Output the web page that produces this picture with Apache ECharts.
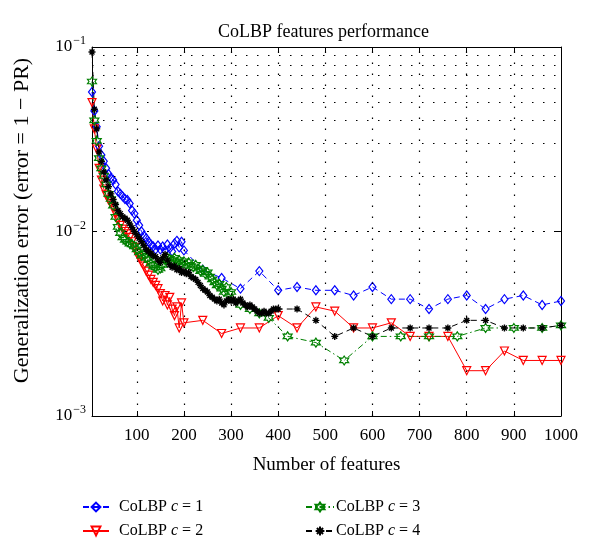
<!DOCTYPE html>
<html><head><meta charset="utf-8">
<script src="https://cdn.jsdelivr.net/npm/echarts@6/dist/echarts.min.js"></script>
<style>html,body{margin:0;padding:0;background:#fff}#c{width:600px;height:557px}</style>
</head><body><div id="c"></div><script>
// ---------- data ----------
const xDense200 = [5,10,15,20,25,30,35,40,45,50,55,60,65,70,75,80,85,90,95,100,105,110,115,120,125,130,135,140,145,150,155,160,165,170,175,180,185,190,195,200];
const xSparse40 = [240,280,320,360,400,440,480,520,560,600,640,680,720,760,800,840,880,920,960,1000];
const xDense300 = [5,10,15,20,25,30,35,40,45,50,55,60,65,70,75,80,85,90,95,100,105,110,115,120,125,130,135,140,145,150,155,160,165,170,175,180,185,190,195,200,205,210,215,220,225,230,235,240,245,250,255,260,265,270,275,280,285,290,295,300];
const xGreenSparse = [320,340,360,380,420,480,540,600,660,720,780,840,900,960,1000];
const xDense400 = [5,10,15,20,25,30,35,40,45,50,55,60,65,70,75,80,85,90,95,100,105,110,115,120,125,130,135,140,145,150,155,160,165,170,175,180,185,190,195,200,205,210,215,220,225,230,235,240,245,250,255,260,265,270,275,280,285,290,295,300,305,310,315,320,325,330,335,340,345,350,355,360,365,370,375,380,385,390,395,400];
const xBlackSparse = [440,480,520,560,600,640,680,720,760,800,840,880,920,960,1000];

const c1Dense = [0.057,0.045,0.037,0.029,0.026,0.024,0.022,0.0205,0.0195,0.019,
  0.018,0.0165,0.016,0.0155,0.015,0.0148,0.0142,0.013,0.0125,0.0115,
  0.0108,0.0100,0.0095,0.0092,0.0088,0.0085,0.0083,0.0080,0.0084,0.0080,
  0.0083,0.0079,0.0085,0.0081,0.0078,0.0086,0.0089,0.0082,0.0088,0.0079];
const c1Sparse = [0.0062,0.0056,0.0049,0.0061,0.0048,0.0050,0.0048,0.0048,0.0045,0.0050,0.0043,0.0043,0.0038,0.0043,0.0045,0.0038,0.0043,0.0045,0.0040,0.0042];

const c2Dense = [0.050,0.036,0.028,0.022,0.019,0.017,0.0158,0.0148,0.0142,0.0135,
  0.0125,0.0116,0.0108,0.0103,0.0100,0.0097,0.0093,0.0088,0.0082,0.0076,
  0.0072,0.0068,0.0065,0.0061,0.0058,0.0055,0.0053,0.0051,0.0049,0.0046,
  0.0042,0.0045,0.0040,0.0044,0.0038,0.0035,0.0039,0.0030,0.0041,0.0032];
const c2Sparse = [0.0033,0.0028,0.0030,0.0030,0.0035,0.0030,0.0039,0.0037,0.0030,0.0030,0.0032,0.0027,0.0027,0.0027,0.00176,0.00176,0.00225,0.0020,0.0020,0.0020];

const c3Dense = [0.065,0.040,0.031,0.025,0.022,0.020,0.018,0.016,0.015,0.0138,
  0.0120,0.0106,0.0098,0.0093,0.0090,0.0088,0.0086,0.0085,0.0083,0.0080,
  0.0077,0.0074,0.0075,0.0072,0.0070,0.0067,0.0065,0.0064,0.0062,0.0063,
  0.0066,0.0070,0.0072,0.0071,0.0069,0.0072,0.0068,0.0070,0.0067,0.0069,
  0.0066,0.0068,0.0065,0.0064,0.0066,0.0063,0.0061,0.0062,0.0059,0.0060,
  0.0057,0.0055,0.0053,0.0051,0.0052,0.0049,0.0047,0.0050,0.0046,0.0047];
const c3Sparse = [0.0040,0.0038,0.0036,0.0034,0.0027,0.0025,0.0020,0.0027,0.0027,0.0027,0.0027,0.0030,0.0030,0.0030,0.0031];

const c4Dense = [0.094,0.046,0.036,0.027,0.024,0.021,0.019,0.0175,0.016,0.0149,
  0.0140,0.0130,0.0125,0.0120,0.0118,0.0115,0.0110,0.0105,0.0100,0.0096,
  0.0092,0.0088,0.0084,0.0080,0.0078,0.0076,0.0074,0.0073,0.0070,0.0068,
  0.0072,0.0075,0.0070,0.0066,0.0064,0.0065,0.0062,0.0063,0.0060,0.0061,
  0.0059,0.0060,0.0057,0.0056,0.0055,0.0053,0.0051,0.0049,0.0048,0.0047,
  0.0045,0.0044,0.0043,0.0042,0.0043,0.0041,0.0040,0.0042,0.0043,0.0042,
  0.0043,0.0041,0.0042,0.0043,0.0041,0.0040,0.0039,0.0040,0.0039,0.0038,
  0.0037,0.0036,0.0036,0.0037,0.0036,0.0036,0.0037,0.0038,0.0038,0.0038];
const c4Sparse = [0.0038,0.0033,0.0027,0.0030,0.0027,0.0030,0.0030,0.0030,0.0030,0.0033,0.0033,0.0030,0.0030,0.0030,0.0031];

const seriesNames = ['CoLBP c = 1','CoLBP c = 2','CoLBP c = 3','CoLBP c = 4'];
const xTickValues = [100,200,300,400,500,600,700,800,900,1000];
const xGridValues = [100,200,300,400,500,600,700,800,900];
const yGridValues = [0.002,0.003,0.004,0.005,0.006,0.007,0.008,0.009,0.01,0.02,0.03,0.04,0.05,0.06,0.07,0.08,0.09];

// ---------- build ----------
function pairs(xs, ys){ return xs.map((x,i)=>[x, ys[i]]); }
const FONT = 'Liberation Serif';
const hexagram = 'path://M10,0L12.89,5L18.66,5L15.77,10L18.66,15L12.89,15L10,20L7.11,15L1.34,15L4.23,10L1.34,5L7.11,5Z';
const asterisk = 'path://M0,10L20,10M10,0L10,20M3,3L17,17M17,3L3,17';

const chart = echarts.init(document.getElementById('c'), null, {renderer:'canvas'});
const axisCommon = {
  axisLine:{show:true, onZero:false, lineStyle:{color:'#000', width:1}},
  axisTick:{show:true, inside:true, length:5, lineStyle:{color:'#000'}},
  splitLine:{show:false}
};
const legendCommon = {orient:'vertical', top:499, padding:0, itemHeight:11, itemGap:8,
  formatter:function(n){ return n.replace(' c ', ' {i|c} '); }};
const option = {
  animation:false,
  backgroundColor:'#fff',
  title:{text:'CoLBP features performance', left:218, top:23, padding:0,
    textStyle:{fontFamily:FONT, fontSize:18, fontWeight:'normal', color:'#000'}},
  grid:{left:92, right:39, top:47, bottom:141, outerBoundsMode:'none'},
  xAxis:[
    Object.assign({}, axisCommon, {type:'value', min:5, max:1000, position:'bottom',
      axisTick:{show:true, inside:true, length:5, customValues:xTickValues, lineStyle:{color:'#000'}},
      axisLabel:{customValues:xTickValues, margin:11, fontFamily:FONT, fontSize:17, color:'#000',
        formatter:function(v){ return String(v); }},
      name:'Number of features', nameLocation:'middle', nameGap:40,
      nameTextStyle:{fontFamily:FONT, fontSize:19, color:'#000'}}),
    Object.assign({}, axisCommon, {type:'value', min:5, max:1000, position:'top',
      axisTick:{show:true, inside:true, length:5, customValues:xTickValues, lineStyle:{color:'#000'}},
      axisLabel:{show:false}})
  ],
  yAxis:[
    Object.assign({}, axisCommon, {type:'log', logBase:10, min:0.001, max:0.1, position:'left',
      axisLabel:{margin:6, color:'#000',
        formatter:function(v){ const e = Math.round(Math.log10(v)); return '{b|10}{s|\u2212' + (-e) + '}'; },
        rich:{b:{fontFamily:FONT, fontSize:17, color:'#000'}, s:{fontFamily:FONT, fontSize:12, color:'#000', verticalAlign:'top', padding:[0,0,12,1]}}},
      name:'Generalization error (error = 1 \u2212 PR)', nameLocation:'middle', nameGap:59,
      nameTextStyle:{fontFamily:FONT, fontSize:22, color:'#000', padding:[0,0,0,22]}}),
    Object.assign({}, axisCommon, {type:'log', logBase:10, min:0.001, max:0.1, position:'right',
      axisLabel:{show:false}})
  ],
  legend:[
    Object.assign({}, legendCommon, {data:[seriesNames[0], seriesNames[1]], left:82, itemWidth:26,
      textStyle:{fontFamily:FONT, fontSize:16, lineHeight:16, color:'#000', padding:[0,0,0,5], rich:{i:{fontFamily:FONT, fontSize:16, lineHeight:16, fontStyle:'italic', color:'#000'}}}}),
    Object.assign({}, legendCommon, {data:[seriesNames[2], seriesNames[3]], left:305, itemWidth:28,
      textStyle:{fontFamily:FONT, fontSize:16, lineHeight:16, color:'#000', padding:[0,0,0,-3], rich:{i:{fontFamily:FONT, fontSize:16, lineHeight:16, fontStyle:'italic', color:'#000'}}}})
  ],
  series:[
    {name:'grid', type:'line', data:[], silent:true, z:1,
      markLine:{silent:true, symbol:['none','none'], label:{show:false}, animation:false,
        lineStyle:{color:'#000', width:1.2, type:[1.5,9.5]},
        emphasis:{disabled:true},
        data:[].concat(xGridValues.map(v=>({xAxis:v})), yGridValues.map(v=>({yAxis:v})))}},
    {name:seriesNames[0], type:'line', z:2, data:pairs(xDense200.concat(xSparse40), c1Dense.concat(c1Sparse)),
      symbol:'diamond', symbolSize:[7,9],
      lineStyle:{color:'#0000ff', width:1, type:[6,4]},
      itemStyle:{color:'rgba(0,0,0,0)', borderColor:'#0000ff', borderWidth:1.2}},
    {name:seriesNames[1], type:'line', z:2, data:pairs(xDense200.concat(xSparse40), c2Dense.concat(c2Sparse)),
      symbol:'triangle', symbolRotate:180, symbolSize:8,
      lineStyle:{color:'#ff0000', width:1},
      itemStyle:{color:'rgba(0,0,0,0)', borderColor:'#ff0000', borderWidth:1.2}},
    {name:seriesNames[2], type:'line', z:2, data:pairs(xDense300.concat(xGreenSparse), c3Dense.concat(c3Sparse)),
      symbol:hexagram, symbolSize:9,
      lineStyle:{color:'#008000', width:1, type:[6,3,1.5,3]},
      itemStyle:{color:'rgba(0,0,0,0)', borderColor:'#008000', borderWidth:1.2}},
    {name:seriesNames[3], type:'line', z:2, data:pairs(xDense400.concat(xBlackSparse), c4Dense.concat(c4Sparse)),
      symbol:asterisk, symbolSize:7,
      lineStyle:{color:'#000000', width:1, type:[6,4]},
      itemStyle:{color:'rgba(0,0,0,0)', borderColor:'#000000', borderWidth:1.4}}
  ]
};
chart.setOption(option);
</script></body></html>
